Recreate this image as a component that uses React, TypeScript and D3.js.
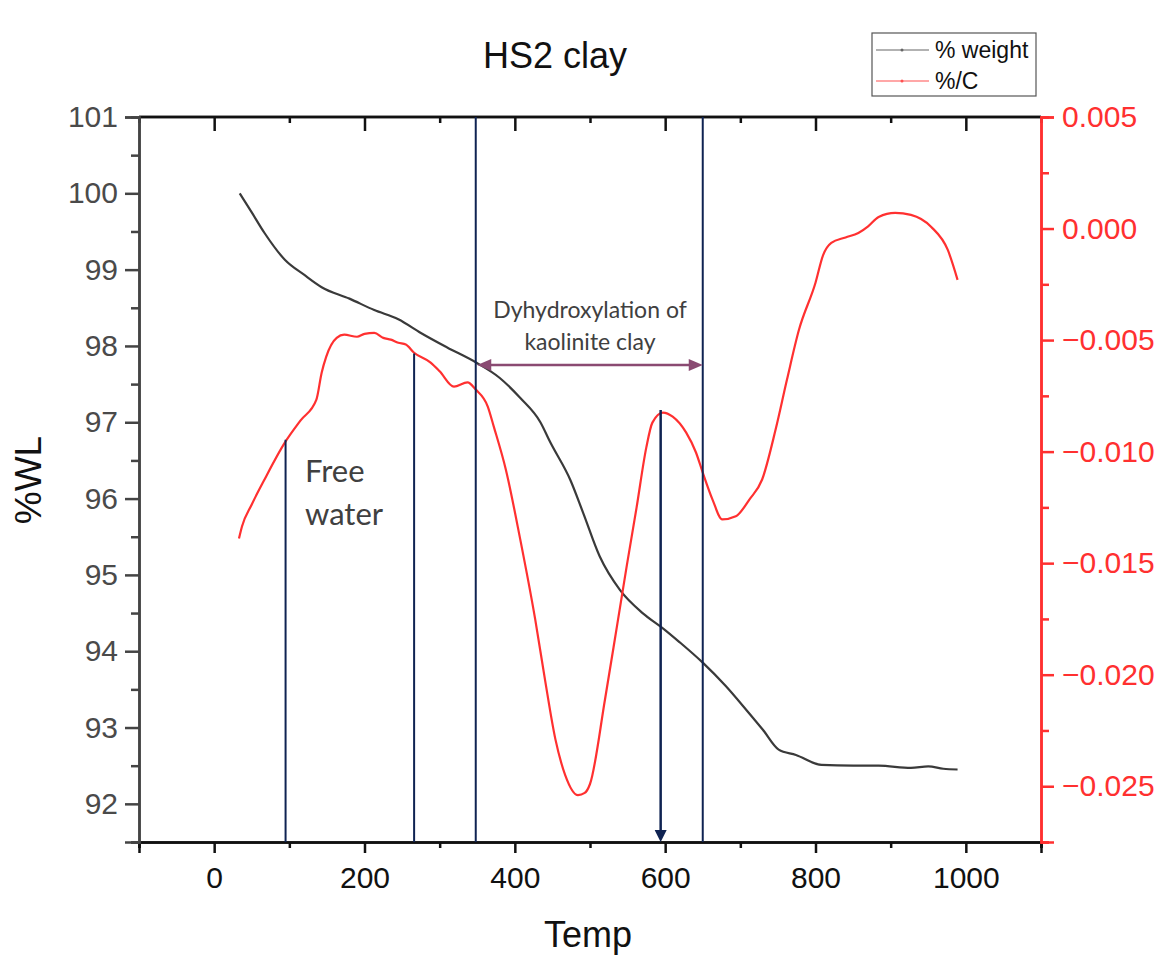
import React, { useEffect, useRef } from 'react';
import * as d3 from 'd3';

// % weight (left axis)
const weightTemp = [34, 50, 67, 94, 120, 143, 180, 213, 245, 275, 310, 349, 380, 407, 434, 447, 474, 491, 513, 540, 570, 597, 619, 650, 680, 708, 730, 751, 774, 808, 850, 884, 927, 950, 970, 989];
const weightVal = [100.0, 99.75, 99.48, 99.13, 98.93, 98.77, 98.62, 98.47, 98.35, 98.17, 97.98, 97.78, 97.58, 97.32, 97.0, 96.74, 96.24, 95.81, 95.24, 94.80, 94.50, 94.30, 94.12, 93.85, 93.55, 93.23, 92.97, 92.71, 92.64, 92.51, 92.50, 92.50, 92.47, 92.49, 92.46, 92.45];

// %/C (right axis)
const rateTemp = [33, 37, 50, 67, 94, 115, 136, 143, 149, 163, 173, 190, 200, 213, 225, 235, 245, 255, 266, 288, 300, 319, 337, 348, 364, 372, 388, 407, 427, 440, 454, 467, 484, 493, 500, 520, 536, 549, 562, 575, 583, 597, 610, 628, 641, 650, 663, 676, 694, 712, 729, 747, 762, 778, 800, 810, 821, 840, 857, 870, 884, 906, 927, 954, 976, 989];
const rateVal = [-0.0139, -0.01336, -0.01237, -0.01125, -0.0096, -0.0086, -0.00767, -0.00646, -0.00575, -0.0049, -0.00476, -0.00485, -0.00472, -0.00468, -0.0049, -0.00498, -0.00512, -0.0052, -0.00557, -0.00601, -0.0064, -0.00709, -0.0069, -0.00722, -0.00798, -0.00888, -0.0108, -0.0139, -0.0175, -0.0202, -0.0229, -0.0245, -0.0254, -0.0253, -0.0249, -0.0211, -0.0178, -0.0151, -0.0125, -0.0098, -0.0087, -0.00825, -0.00843, -0.00915, -0.01004, -0.01094, -0.01215, -0.01304, -0.0129, -0.01215, -0.01125, -0.009, -0.00678, -0.00454, -0.00243, -0.0012, -0.00064, -0.0004, -0.0002, 0.0001, 0.00052, 0.0007, 0.00061, 0.00007, -0.00096, -0.0023];

const xMajor = [0, 200, 400, 600, 800, 1000];
const xMinor = [-100, 100, 300, 500, 700, 900, 1100];
const leftMajor = [92, 93, 94, 95, 96, 97, 98, 99, 100, 101];
const leftMinor = [91.5, 92.5, 93.5, 94.5, 95.5, 96.5, 97.5, 98.5, 99.5, 100.5];
const rightMajor = [0.005, 0, -0.005, -0.01, -0.015, -0.02, -0.025];
const rightMinor = [0.0025, -0.0025, -0.0075, -0.0125, -0.0175, -0.0225, -0.0275];

// annotation lines: temperature and top (in % weight units)
const markerTemp = [95, 266, 348, 650];
const markerTop = [96.77, 97.9, 101, 101];
const arrowTemp = 594;
const arrowTop = 97.16;
const spanFrom = 350;
const spanTo = 650;
const spanLevel = 97.75;

const FONT = 'Arial, "Liberation Sans", sans-serif';
const NOTE_FONT = 'Lato, "Open Sans", sans-serif';

function App() {
  const ref = useRef<SVGSVGElement>(null);

  useEffect(() => {
    const svg = d3.select(ref.current);
    svg.selectAll('*').remove();

    const left = 139, right = 1041, top = 117, bottom = 842;
    const x = d3.scaleLinear().domain([-100, 1100]).range([left, right]);
    const yL = d3.scaleLinear().domain([91.5, 101]).range([bottom, top]);
    const yR = d3.scaleLinear().domain([-0.0275, 0.005]).range([bottom, top]);

    const navy = '#0f2352';
    const red = '#ff3030';

    // title
    svg.append('text').attr('x', 555).attr('y', 68).attr('text-anchor', 'middle')
      .style('font-family', FONT).style('font-size', '36px').attr('fill', '#111').text('HS2 clay');

    // bottom axis
    const gx = svg.append('g').attr('transform', `translate(0, ${bottom})`);
    gx.call(d3.axisBottom(x).tickValues(xMinor).tickSize(6).tickFormat(() => ''));
    gx.call(g => g.append('g').call(d3.axisBottom(x).tickValues(xMajor).tickSize(11).tickPadding(14).tickFormat(d3.format('d'))));
    gx.selectAll('.domain').attr('stroke', '#111').attr('stroke-width', 2.5);
    gx.selectAll('line').attr('stroke', '#111').attr('stroke-width', 2.5);
    gx.selectAll('text').style('font-family', FONT).style('font-size', '30px').attr('fill', '#111');

    // top frame with inward ticks
    const gt = svg.append('g').attr('transform', `translate(0, ${top})`);
    gt.call(d3.axisBottom(x).tickValues(xMinor).tickSize(6).tickFormat(() => ''));
    gt.call(g => g.append('g').call(d3.axisBottom(x).tickValues(xMajor).tickSize(14).tickFormat(() => '')));
    gt.selectAll('.domain').attr('stroke', '#111').attr('stroke-width', 2.5).attr('d', `M${left},0H${right}`);
    gt.selectAll('line').attr('stroke', '#111').attr('stroke-width', 2.5);

    // left axis
    const gl = svg.append('g').attr('transform', `translate(${left}, 0)`);
    gl.call(d3.axisLeft(yL).tickValues(leftMinor).tickSize(8).tickFormat(() => ''));
    gl.call(g => g.append('g').call(d3.axisLeft(yL).tickValues(leftMajor).tickSize(14).tickPadding(7).tickFormat(d3.format('d'))));
    gl.selectAll('.domain').attr('stroke', '#444').attr('stroke-width', 2.5);
    gl.selectAll('line').attr('stroke', '#444').attr('stroke-width', 2.5);
    gl.selectAll('text').style('font-family', FONT).style('font-size', '30px').attr('fill', '#4a4a4a');

    // right axis
    const gr = svg.append('g').attr('transform', `translate(${right}, 0)`);
    gr.call(d3.axisRight(yR).tickValues(rightMinor).tickSize(8).tickFormat(() => ''));
    gr.call(g => g.append('g').call(d3.axisRight(yR).tickValues(rightMajor).tickSize(13).tickPadding(8)
      .tickFormat(d => d3.format('.3f')(d as number).replace('-', '\u2212'))));
    gr.selectAll('.domain').attr('stroke', red).attr('stroke-width', 2.5);
    gr.selectAll('line').attr('stroke', red).attr('stroke-width', 2.5);
    gr.selectAll('text').style('font-family', FONT).style('font-size', '30px').attr('fill', red);

    // axis titles
    svg.append('text').attr('x', 588).attr('y', 947).attr('text-anchor', 'middle')
      .style('font-family', FONT).style('font-size', '36px').attr('fill', '#111').text('Temp');
    svg.append('text').attr('transform', `translate(41, ${480}) rotate(-90)`).attr('text-anchor', 'middle')
      .style('font-family', FONT).style('font-size', '37px').attr('fill', '#111').text('%WL');

    // curves
    const weight = weightTemp.map((t, i) => [t, weightVal[i]] as [number, number]);
    const rate = rateTemp.map((t, i) => [t, rateVal[i]] as [number, number]);

    svg.append('path').datum(weight)
      .attr('d', d3.line<[number, number]>().x(d => x(d[0])).y(d => yL(d[1])).curve(d3.curveMonotoneX))
      .attr('fill', 'none').attr('stroke', '#3a3a3a').attr('stroke-width', 2.2);

    svg.append('path').datum(rate)
      .attr('d', d3.line<[number, number]>().x(d => x(d[0])).y(d => yR(d[1])).curve(d3.curveMonotoneX))
      .attr('fill', 'none').attr('stroke', red).attr('stroke-width', 2.2);

    // annotation lines
    svg.selectAll('.marker').data(markerTemp).join('line')
      .attr('class', 'marker')
      .attr('x1', d => x(d)).attr('x2', d => x(d))
      .attr('y1', (d, i) => yL(markerTop[i])).attr('y2', bottom)
      .attr('stroke', navy).attr('stroke-width', 2);

    svg.append('line').attr('x1', x(arrowTemp)).attr('x2', x(arrowTemp))
      .attr('y1', yL(arrowTop)).attr('y2', bottom - 10)
      .attr('stroke', navy).attr('stroke-width', 2.5);
    svg.append('path')
      .attr('d', `M${x(arrowTemp) - 6},${bottom - 12}L${x(arrowTemp) + 6},${bottom - 12}L${x(arrowTemp)},${bottom}Z`)
      .attr('fill', navy);

    // double arrow
    const purple = '#8a4a72';
    const ax1 = x(spanFrom), ax2 = x(spanTo), ay = yL(spanLevel);
    svg.append('line').attr('x1', ax1 + 8).attr('x2', ax2 - 8).attr('y1', ay).attr('y2', ay)
      .attr('stroke', purple).attr('stroke-width', 2.5);
    svg.append('path').attr('d', `M${ax1},${ay}L${ax1 + 14},${ay - 6}L${ax1 + 14},${ay + 6}Z`).attr('fill', purple);
    svg.append('path').attr('d', `M${ax2},${ay}L${ax2 - 14},${ay - 6}L${ax2 - 14},${ay + 6}Z`).attr('fill', purple);

    // notes
    svg.append('text').attr('x', 590).attr('y', 318).attr('text-anchor', 'middle')
      .style('font-family', NOTE_FONT).style('font-size', '23px').attr('fill', '#404040').text('Dyhydroxylation of');
    svg.append('text').attr('x', 590).attr('y', 350).attr('text-anchor', 'middle')
      .style('font-family', NOTE_FONT).style('font-size', '23px').attr('fill', '#404040').text('kaolinite clay');
    svg.append('text').attr('x', 305).attr('y', 482)
      .style('font-family', NOTE_FONT).style('font-size', '31px').attr('fill', '#404040').text('Free');
    svg.append('text').attr('x', 305).attr('y', 525)
      .style('font-family', NOTE_FONT).style('font-size', '31px').attr('fill', '#404040').text('water');

    // legend
    const lg = svg.append('g');
    lg.append('rect').attr('x', 872).attr('y', 33).attr('width', 164).attr('height', 63)
      .attr('fill', 'white').attr('stroke', '#555').attr('stroke-width', 1.2);
    const items = [{ name: '% weight', color: '#666' }, { name: '%/C', color: '#ff5050' }];
    items.forEach((it, i) => {
      const yy = 50 + i * 31;
      lg.append('line').attr('x1', 876).attr('x2', 929).attr('y1', yy).attr('y2', yy)
        .attr('stroke', it.color).attr('stroke-width', 1.2);
      lg.append('circle').attr('cx', 902).attr('cy', yy).attr('r', 1.5).attr('fill', it.color);
      lg.append('text').attr('x', 935).attr('y', yy + 8)
        .style('font-family', FONT).style('font-size', '23px').attr('fill', '#111').text(it.name);
    });
  }, []);

  return (
    <svg ref={ref} width={1166} height={955}
      style={{ position: 'absolute', left: 0, top: 0, background: 'white' }} />
  );
}

export default App;
